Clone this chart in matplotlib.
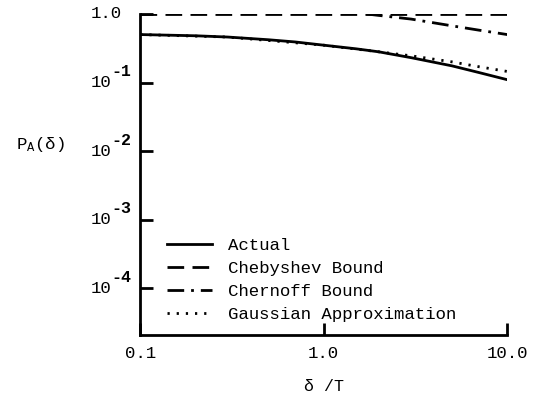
import numpy as np
import matplotlib
matplotlib.use('Agg')
import matplotlib.pyplot as plt

plt.rcParams['font.family'] = ['Liberation Mono', 'DejaVu Sans Mono']
plt.rcParams['mathtext.fontset'] = 'custom'
plt.rcParams['mathtext.rm'] = 'Liberation Mono'
plt.rcParams['mathtext.it'] = 'Liberation Mono'

# values (delta/T vs P_A(delta))
x_actual = [0.1, 0.2, 0.3, 0.5, 0.7, 1.0, 1.5, 2.0, 3.0, 5.0, 7.0, 10.0]
y_actual = [0.50, 0.48, 0.46, 0.42, 0.39, 0.35, 0.31, 0.28, 0.23, 0.175, 0.14, 0.11]

x_cheby = [0.1, 1.0, 10.0]
y_cheby = [1.0, 1.0, 1.0]

x_chern = [1.7, 2.0, 3.0, 5.0, 7.0, 10.0]
y_chern = [1.0, 0.95, 0.84, 0.67, 0.58, 0.50]

x_gauss = [0.1, 0.3, 1.0, 2.0, 3.0, 5.0, 7.0, 10.0]
y_gauss = [0.50, 0.46, 0.35, 0.28, 0.245, 0.20, 0.17, 0.145]

xticks = [0.1, 1.0, 10.0]
xticklabels = ['0.1', '1.0', '10.0']
yticks = [1.0, 1e-1, 1e-2, 1e-3, 1e-4]
yexps = [None, '-1', '-2', '-3', '-4']

fig = plt.figure(figsize=(5.35, 3.97), dpi=100)
ax = fig.add_axes([0.262, 0.156, 0.686, 0.809])

ax.plot(x_actual, y_actual, color='black', lw=2, ls='-', label='Actual')
ax.plot(x_cheby, y_cheby, color='black', lw=2, ls=(0, (6, 3)), label='Chebyshev Bound')
ax.plot(x_chern, y_chern, color='black', lw=2, ls=(0, (6, 2.5, 1, 2.5)), label='Chernoff Bound')
ax.plot(x_gauss, y_gauss, color='black', lw=2, ls=(0, (0.8, 2.5)), label='Gaussian Approximation')

ax.set_xscale('log')
ax.set_yscale('log')
ax.set_xlim(0.1, 10.0)
ax.set_ylim(10 ** -4.68, 1.0)
ax.set_xticks(xticks)
ax.set_xticklabels(xticklabels)
ax.set_yticks(yticks)
ax.set_yticklabels([])
ax.minorticks_off()
ax.tick_params(direction='in', length=9, width=2, labelsize=12.5, pad=8)

# y tick labels drawn by hand: "10" with a large raised exponent
for yv, ex in zip(yticks, yexps):
    if ex is None:
        ax.annotate('1.0', xy=(0, yv), xycoords=('axes fraction', 'data'),
                    xytext=(-13, 0), textcoords='offset points',
                    ha='right', va='center', fontsize=12.5)
    else:
        ax.annotate('10', xy=(0, yv), xycoords=('axes fraction', 'data'),
                    xytext=(-21, 0), textcoords='offset points',
                    ha='right', va='center', fontsize=12.5)
        ax.annotate(ex, xy=(0, yv), xycoords=('axes fraction', 'data'),
                    xytext=(-21, 8), textcoords='offset points',
                    ha='left', va='center', fontsize=12, fontweight='bold')

for s in ['top', 'right']:
    ax.spines[s].set_visible(False)
for s in ['left', 'bottom']:
    ax.spines[s].set_linewidth(2)

ax.set_xlabel('δ /T', fontsize=12, labelpad=13)
fig.text(0.03, 0.635, 'P$_A$(δ)', fontsize=12.5, va='center', ha='left')

leg = ax.legend(loc='lower left', bbox_to_anchor=(0.055, 0.02), frameon=False,
                fontsize=12.5, handlelength=2.6, handletextpad=0.9,
                labelspacing=0.45, borderaxespad=0)

fig.savefig('out.png', dpi=100)
